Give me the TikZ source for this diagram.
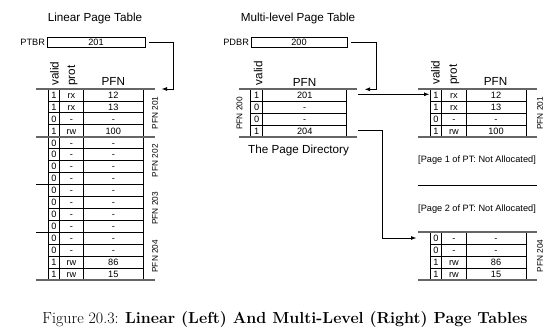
\documentclass[tikz,border=0pt]{standalone}
\usepackage{fontspec}
\usepackage{tikz}
\usetikzlibrary{arrows.meta}
\newfontfamily\helv{Liberation Sans}

\begin{document}
\begin{tikzpicture}[x=1pt, y=-1pt, >={Latex[length=5.5pt,width=4pt]},
	ttl/.style={font=\helv\fontsize{11.7}{14}\selectfont, inner sep=0pt},
	hdr/.style={font=\helv\fontsize{11.7}{14}\selectfont, inner sep=0pt, anchor=base west, rotate=90},
	cell/.style={font=\helv\fontsize{9.2}{11}\selectfont, inner sep=0pt, anchor=base},
	small/.style={font=\helv\fontsize{9.2}{11}\selectfont, inner sep=0pt},
	pfnlab/.style={font=\helv\fontsize{8.3}{10}\selectfont, inner sep=0pt, rotate=90},
	regbox/.style={draw, line width=0.8pt, minimum height=10pt, inner sep=0pt, font=\helv\fontsize{9.2}{11}\selectfont},
	grid/.style={line width=0.8pt},
	sep/.style={line width=1.6pt, black!60},
	link/.style={->, line width=0.9pt}]
	\useasboundingbox (0,0) rectangle (553,336);
	\node[ttl] (lintitle) at (95,18) {Linear Page Table};
	\node[ttl] (mltitle) at (298,18) {Multi-level Page Table};
	\node[regbox, minimum width=98pt] (ptbr) at (96,42) {201};
	\node[small, anchor=east] (ptbrlab) at ([xshift=-1.5pt]ptbr.west) {PTBR};
	\node[regbox, minimum width=96pt] (pdbr) at (299,42) {200};
	\node[small, anchor=east] (pdbrlab) at ([xshift=-1.5pt]pdbr.west) {PDBR};
	\draw[grid] (48.3,89) rectangle (143.3,280.04);
	\foreach \x in {59.5,83.3} \draw[grid] (\x,89) -- (\x,280.04);
	\foreach \i in {1,...,15} \draw[grid] (48.3,{89+\i*11.94}) -- (143.3,{89+\i*11.94});
	\foreach [count=\i from 0] \v/\p/\f in {1/rx/12,1/rx/13,0/-/-,1/rw/100,0/-/-,0/-/-,0/-/-,0/-/-,0/-/-,0/-/-,0/-/-,0/-/-,0/-/-,0/-/-,1/rw/86,1/rw/15} {
		\node[cell] (lv\i) at (53.9,{98.3+\i*11.94}) {\v};
		\node[cell] (lp\i) at (71.4,{98.3+\i*11.94}) {\p};
		\node[cell] (lf\i) at (113.3,{98.3+\i*11.94}) {\f};
	}
	\draw[sep] (36,89) -- (155,89);
	\draw[sep] (36,136.8) -- (155,136.8);
	\draw[grid] (36,184.5) -- (143.3,184.5);
	\draw[grid] (36,232.3) -- (143.3,232.3);
	\draw[sep] (36,280) -- (155,280);
	\foreach [count=\k from 0] \n in {201,...,204} \node[pfnlab] (lg\n) at (155,{112.9+\k*47.76}) {PFN \n};
	\node[hdr] (lvalid) at (58.7,86) {valid};
	\node[hdr] (lprot) at (75,86) {prot};
	\node[ttl, anchor=base] (lpfn) at (113.3,86) {PFN};
	\draw[grid] (250.7,89.3) rectangle (346.7,137.3);
	\draw[grid] (262.7,89.3) -- (262.7,137.3);
	\foreach \i in {1,2,3} \draw[grid] (250.7,{89.3+\i*12}) -- (346.7,{89.3+\i*12});
	\foreach [count=\i from 0] \v/\f in {1/201,0/-,0/-,1/204} {
		\node[cell] (dv\i) at (256.7,{98.6+\i*12}) {\v};
		\node[cell] (df\i) at (304.7,{98.6+\i*12}) {\f};
	}
	\draw[sep] (239,89.3) -- (357,89.3);
	\draw[sep] (239,137.3) -- (357,137.3);
	\node[hdr] (dvalid) at (262.3,85.5) {valid};
	\node[ttl, anchor=base] (dpfn) at (304.5,86.5) {PFN};
	\node[pfnlab] (dlab) at (239.5,113.3) {PFN 200};
	\node[ttl] (pdname) at (298.5,150) {The Page Directory};
	\foreach \y/\n in {89.3/201,232/204} {
		\draw[grid] (430,\y) rectangle (526,{\y+48});
		\foreach \x in {441.7,466} \draw[grid] (\x,\y) -- (\x,{\y+48});
		\foreach \i in {1,2,3} \draw[grid] (430,{\y+\i*12}) -- (526,{\y+\i*12});
		\draw[sep] (418,\y) -- (537,\y);
		\draw[sep] (418,{\y+48}) -- (537,{\y+48});
		\node[pfnlab] (rg\n) at (540,{\y+24}) {PFN \n};
	}
	\foreach [count=\i from 0] \v/\p/\f in {1/rx/12,1/rx/13,0/-/-,1/rw/100} {
		\node[cell] (av\i) at (435.9,{98.6+\i*12}) {\v};
		\node[cell] (ap\i) at (453.9,{98.6+\i*12}) {\p};
		\node[cell] (af\i) at (496,{98.6+\i*12}) {\f};
	}
	\foreach [count=\i from 0] \v/\p/\f in {0/-/-,0/-/-,1/rw/86,1/rw/15} {
		\node[cell] (bv\i) at (435.9,{241.3+\i*12}) {\v};
		\node[cell] (bp\i) at (453.9,{241.3+\i*12}) {\p};
		\node[cell] (bf\i) at (496,{241.3+\i*12}) {\f};
	}
	\node[hdr] (avalid) at (439.5,85) {valid};
	\node[hdr] (aprot) at (456.8,85) {prot};
	\node[ttl, anchor=base] (apfn) at (495.5,86) {PFN};
	\node[small] (pg1) at (477,160.5) {[Page 1 of PT: Not Allocated]};
	\draw[line width=0.9pt] (418,185) -- (537,185);
	\node[small] (pg2) at (477,209.5) {[Page 2 of PT: Not Allocated]};
	\coordinate (ltin) at (161.5,89);
	\draw[link] ([xshift=4pt]ptbr.east) -- ++(24,0) |- (ltin);
	\coordinate (dtin) at (364.5,89.3);
	\draw[link] ([xshift=4pt]pdbr.east) -- ++(25,0) |- (dtin);
	\coordinate (pdo1) at (358,94.3);
	\coordinate (pt1in) at (429.5,94.3);
	\draw[link] (pdo1) -- (pt1in);
	\coordinate (pdo4) at (358,130);
	\coordinate (pt4in) at (416.5,238);
	\draw[link] (pdo4) -- ++(24,0) |- (pt4in);
	\node (caption) at (285,320) {\fontsize{16}{19}\selectfont Figure 20.3: \textbf{Linear (Left) And Multi-Level (Right) Page Tables}};
\end{tikzpicture}
\end{document}
